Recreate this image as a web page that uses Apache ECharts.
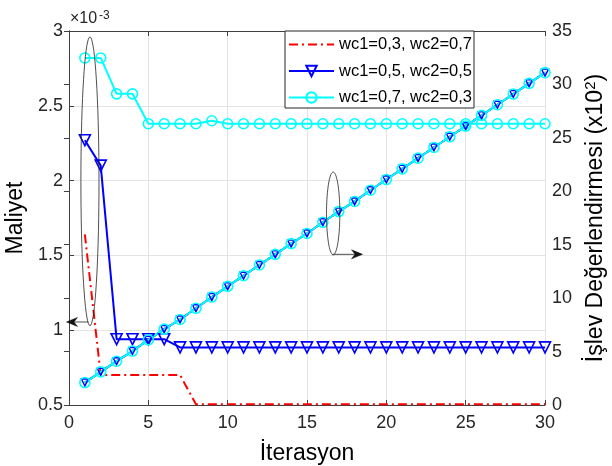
<!DOCTYPE html>
<html><head><meta charset="utf-8">
<script src="https://cdn.jsdelivr.net/npm/echarts@6/dist/echarts.min.js"></script>
<style>html,body{margin:0;padding:0;background:#fff}#c{width:612px;height:466px}</style>
</head><body><div id="c"></div>
<script>
const FONT = "'Liberation Sans', Arial, sans-serif";
const iterations = [1,2,3,4,5,6,7,8,9,10,11,12,13,14,15,16,17,18,19,20,21,22,23,24,25,26,27,28,29,30];
const seriesNames = ['wc1=0,3, wc2=0,7', 'wc1=0,5, wc2=0,5', 'wc1=0,7, wc2=0,3'];
// Maliyet (x10^-3), left axis
const costRed  = [1.64,0.70,0.70,0.70,0.70,0.70,0.70,0.505,0.505,0.505,0.505,0.505,0.505,0.505,0.505,0.505,0.505,0.505,0.505,0.505,0.505,0.505,0.505,0.505,0.505,0.505,0.505,0.505,0.505,0.505];
const costBlue = [2.27,2.10,0.94,0.94,0.94,0.94,0.885,0.885,0.885,0.885,0.885,0.885,0.885,0.885,0.885,0.885,0.885,0.885,0.885,0.885,0.885,0.885,0.885,0.885,0.885,0.885,0.885,0.885,0.885,0.885];
const costCyan = [2.82,2.82,2.58,2.58,2.38,2.38,2.38,2.38,2.40,2.38,2.38,2.38,2.38,2.38,2.38,2.38,2.38,2.38,2.38,2.38,2.38,2.38,2.38,2.38,2.38,2.38,2.38,2.38,2.38,2.38];
// İşlev Değerlendirmesi (x10^2), right axis
const evalRed  = [2.1,3.1,4.1,5.05,6.1,7.1,8.0,9.05,10.1,11.1,12.1,13.1,14.1,15.1,16.05,17.1,18.1,19.05,20.1,21.1,22.1,23.1,24.1,25.1,26.1,27.1,28.1,29.1,30.1,31.1];
const evalBlue = [2.1,3.1,4.1,5.05,6.1,7.1,8.0,9.05,10.1,11.1,12.1,13.1,14.1,15.1,16.05,17.1,18.1,19.05,20.1,21.1,22.1,23.1,24.1,25.1,26.1,27.1,28.1,29.1,30.1,31.1];
const evalCyan = [2.1,3.1,4.1,5.05,6.1,7.1,8.0,9.05,10.1,11.1,12.1,13.1,14.1,15.1,16.05,17.1,18.1,19.05,20.1,21.1,22.1,23.1,24.1,25.1,26.1,27.1,28.1,29.1,30.1,31.1];

const pairs = arr => iterations.map((x, i) => [x, arr[i]]);
const AX = '#404040', TXT = '#262626', GRID = '#e3e3e3';
const RED = '#ff0000', BLUE = '#0000ff', CYAN = '#00ffff';
const CLEAR = 'rgba(255,255,255,0)';

const redStyle = {type: 'line', name: seriesNames[0], symbol: 'none',
  lineStyle: {color: RED, width: 2, type: [9, 4, 2, 4]}, itemStyle: {color: CLEAR, borderColor: CLEAR}};
const blueStyle = {type: 'line', name: seriesNames[1], symbol: 'triangle', symbolRotate: 180, symbolSize: 11,
  lineStyle: {color: BLUE, width: 2}, itemStyle: {color: CLEAR, borderColor: BLUE, borderWidth: 1.6}};
const cyanStyle = {type: 'line', name: seriesNames[2], symbol: 'circle', symbolSize: 10,
  lineStyle: {color: CYAN, width: 2}, itemStyle: {color: CLEAR, borderColor: CYAN, borderWidth: 1.6}};

const chart = echarts.init(document.getElementById('c'), null, {renderer: 'canvas'});
const axCommon = {
  axisLine: {show: true, lineStyle: {color: AX, width: 1}},
  axisTick: {show: true, inside: true, length: 5, lineStyle: {color: AX}},
  axisLabel: {color: TXT, fontSize: 18, fontFamily: FONT, showMinLabel: true, showMaxLabel: true, hideOverlap: false}
};
chart.setOption({
  animation: false,
  backgroundColor: '#fff',
  textStyle: {fontFamily: FONT},
  grid: {left: 69, right: 67, top: 31, bottom: 61, outerBoundsMode: 'none', containLabel: false},
  legend: {
    orient: 'vertical', left: 285, top: 31, padding: [5, 2, 2, 3], itemGap: 9.5, itemWidth: 45, itemHeight: 13,
    backgroundColor: '#fff', borderColor: '#262626', borderWidth: 1, borderRadius: 0, selectedMode: false,
    textStyle: {fontSize: 16.5, lineHeight: 13, color: '#000', fontFamily: FONT},
    data: seriesNames
  },
  xAxis: [
    Object.assign({}, axCommon, {type: 'value', min: 0, max: 30, interval: 5, position: 'bottom',
      name: 'İterasyon', nameLocation: 'middle', nameGap: 37,
      nameTextStyle: {fontSize: 23, color: '#000', fontFamily: FONT},
      axisLabel: Object.assign({}, axCommon.axisLabel, {margin: 9}),
      splitLine: {show: true, lineStyle: {color: GRID, width: 1}}}),
    Object.assign({}, axCommon, {type: 'value', min: 0, max: 30, interval: 5, position: 'top',
      axisLabel: {show: false}, splitLine: {show: false}})
  ],
  yAxis: [
    Object.assign({}, axCommon, {type: 'value', min: 0.5, max: 3, interval: 0.5, position: 'left',
      name: 'Maliyet', nameLocation: 'middle', nameGap: 34, nameRotate: 90,
      nameTextStyle: {fontSize: 23, color: '#000', fontFamily: FONT},
      axisLabel: Object.assign({}, axCommon.axisLabel, {margin: 6}),
      splitLine: {show: true, lineStyle: {color: GRID, width: 1}}}),
    Object.assign({}, axCommon, {type: 'value', min: 0, max: 35, interval: 5, position: 'right',
      name: 'İşlev Değerlendirmesi (x10{sup|2})', nameLocation: 'middle', nameGap: 38, nameRotate: 90,
      nameTextStyle: {fontSize: 23, color: '#000', fontFamily: FONT,
        rich: {sup: {fontSize: 15, fontFamily: FONT, color: '#000', verticalAlign: 'top', padding: [0, 0, 10, 0]}}},
      axisLabel: Object.assign({}, axCommon.axisLabel, {margin: 7}),
      splitLine: {show: false}})
  ],
  series: [
    Object.assign({}, redStyle, {yAxisIndex: 0, data: pairs(costRed)}),
    Object.assign({}, blueStyle, {yAxisIndex: 0, data: pairs(costBlue)}),
    Object.assign({}, cyanStyle, {yAxisIndex: 0, data: pairs(costCyan)}),
    Object.assign({}, redStyle, {yAxisIndex: 1, data: pairs(evalRed)}),
    Object.assign({}, blueStyle, {yAxisIndex: 1, symbolSize: 7, itemStyle: {color: CLEAR, borderColor: BLUE, borderWidth: 1.4}, data: pairs(evalBlue)}),
    Object.assign({}, cyanStyle, {yAxisIndex: 1, data: pairs(evalCyan)})
  ]
});

// annotations (ellipses and arrows), placed in data coordinates
const pL = p => chart.convertToPixel({xAxisIndex: 0, yAxisIndex: 0}, p);
const pR = p => chart.convertToPixel({xAxisIndex: 0, yAxisIndex: 1}, p);
function ellipse(c, rx, ry) {
  const pts = [];
  for (let k = 0; k < 72; k++) { const a = k / 72 * 2 * Math.PI; pts.push([c[0] + rx * Math.cos(a), c[1] + ry * Math.sin(a)]); }
  return {type: 'polygon', shape: {points: pts}, style: {fill: 'none', stroke: '#222', lineWidth: 0.8}, z: 50};
}
function arrow(from, to) {
  const dx = to[0] - from[0], dy = to[1] - from[1], L = Math.hypot(dx, dy), ux = dx / L, uy = dy / L;
  const hl = 11, hw = 4.5, nb = 7.5;
  const bx = to[0] - ux * hl, by = to[1] - uy * hl;
  const nx = to[0] - ux * nb, ny = to[1] - uy * nb;
  return [
    {type: 'line', shape: {x1: from[0], y1: from[1], x2: nx, y2: ny}, style: {stroke: '#222', lineWidth: 0.8}, z: 50},
    {type: 'polygon', shape: {points: [[to[0], to[1]], [bx - uy * hw, by + ux * hw], [nx, ny], [bx + uy * hw, by - ux * hw]]},
      style: {fill: '#111', stroke: '#111', lineWidth: 0.5}, z: 50}
  ];
}
const e1t = pL([1.32, 2.96]), e1b = pL([1.32, 1.03]), e1r = pL([1.89, 2.0]);
const e1c = [e1t[0], (e1t[1] + e1b[1]) / 2];
const e2t = pR([16.65, 21.8]), e2b = pR([16.65, 14.05]), e2r = pR([17.07, 18]);
const e2c = [e2t[0], (e2t[1] + e2b[1]) / 2];
const a1s = pL([1.22, 1.055]), a1e = pL([-0.16, 1.055]);
const a2s = pR([16.6, 14.1]), a2e = pR([18.5, 14.1]);
const origin = pL([0, 3]);
chart.setOption({
  graphic: [
    ellipse(e1c, e1r[0] - e1c[0], (e1b[1] - e1t[1]) / 2),
    ellipse(e2c, e2r[0] - e2c[0], (e2b[1] - e2t[1]) / 2),
    ...arrow(a1s, a1e),
    ...arrow(a2s, a2e),
    {type: 'text', x: origin[0] + 1, y: origin[1] - 4, style: {text: '×10', fontSize: 16, fontFamily: FONT, fill: TXT, verticalAlign: 'bottom', align: 'left'}},
    {type: 'text', x: origin[0] + 30, y: origin[1] - 21, style: {text: '-3', fontSize: 12, fontFamily: FONT, fill: TXT, verticalAlign: 'top', align: 'left'}}
  ]
});
</script></body></html>
